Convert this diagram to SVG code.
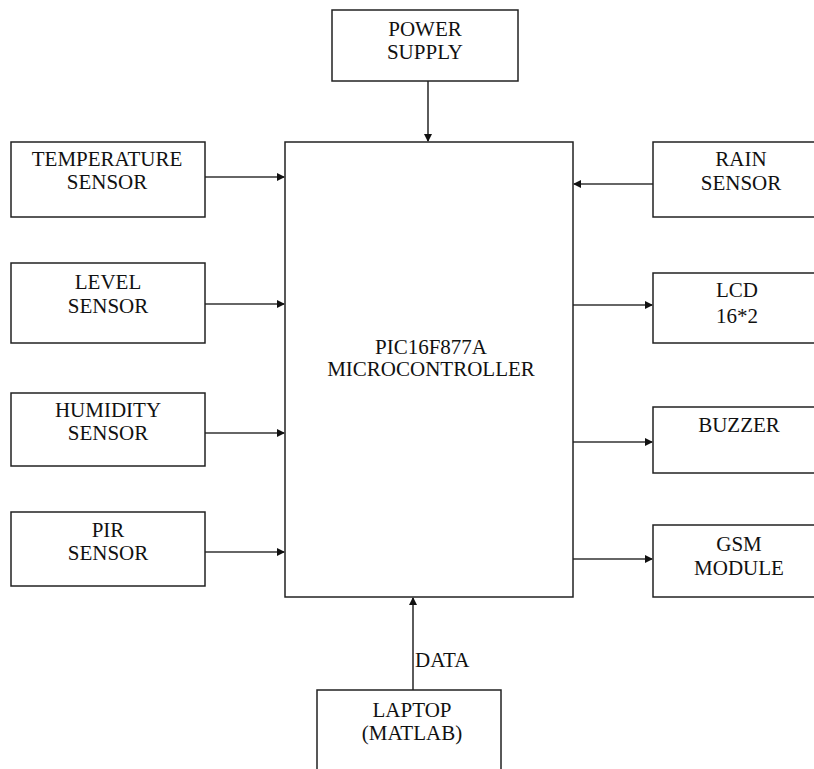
<svg xmlns="http://www.w3.org/2000/svg" width="814" height="769" viewBox="0 0 814 769">
<style>
.box{fill:#fff;stroke:#222;stroke-width:1.5}
.t{font-family:"Liberation Serif","Times New Roman",serif;font-size:21px;fill:#111;text-anchor:middle}
.c{stroke:#333;stroke-width:1.6;fill:none;marker-end:url(#ah)}
</style>
<defs>
<marker id="ah" markerWidth="8" markerHeight="8" refX="7" refY="4" orient="auto" markerUnits="userSpaceOnUse">
<path d="M0,0 L8,4 L0,8 Z" fill="#111"/>
</marker>
</defs>
<rect width="814" height="769" fill="#fff"/>
<g id="connectors">
<line class="c" x1="428" y1="81" x2="428" y2="141"/>
<line class="c" x1="205" y1="177" x2="284" y2="177"/>
<line class="c" x1="205" y1="304" x2="284" y2="304"/>
<line class="c" x1="205" y1="433" x2="284" y2="433"/>
<line class="c" x1="205" y1="552" x2="284" y2="552"/>
<line class="c" x1="653" y1="184" x2="574" y2="184"/>
<line class="c" x1="573" y1="305" x2="652" y2="305"/>
<line class="c" x1="573" y1="442" x2="652" y2="442"/>
<line class="c" x1="573" y1="559" x2="652" y2="559"/>
<line class="c" x1="413" y1="690" x2="413" y2="598"/>
<text class="t" x="415" y="667" style="text-anchor:start">DATA</text>
</g>
<g id="power">
<rect class="box" x="332" y="10" width="186" height="71"/>
<text class="t" x="425" y="36">POWER</text>
<text class="t" x="425" y="59">SUPPLY</text>
</g>
<g id="mcu">
<rect class="box" x="285" y="142" width="288" height="455"/>
<text class="t" x="431" y="354">PIC16F877A</text>
<text class="t" x="431" y="376">MICROCONTROLLER</text>
</g>
<g id="temp">
<rect class="box" x="11" y="142" width="194" height="75"/>
<text class="t" x="107" y="166">TEMPERATURE</text>
<text class="t" x="107" y="189">SENSOR</text>
</g>
<g id="level">
<rect class="box" x="11" y="263" width="194" height="80"/>
<text class="t" x="108" y="289">LEVEL</text>
<text class="t" x="108" y="313">SENSOR</text>
</g>
<g id="humidity">
<rect class="box" x="11" y="393" width="194" height="73"/>
<text class="t" x="108" y="417">HUMIDITY</text>
<text class="t" x="108" y="440">SENSOR</text>
</g>
<g id="pir">
<rect class="box" x="11" y="512" width="194" height="74"/>
<text class="t" x="108" y="537">PIR</text>
<text class="t" x="108" y="560">SENSOR</text>
</g>
<g id="rain">
<rect class="box" x="653" y="142" width="170" height="75"/>
<text class="t" x="741" y="166">RAIN</text>
<text class="t" x="741" y="190">SENSOR</text>
</g>
<g id="lcd">
<rect class="box" x="653" y="273" width="170" height="70"/>
<text class="t" x="737" y="297">LCD</text>
<text class="t" x="737" y="323">16*2</text>
</g>
<g id="buzzer">
<rect class="box" x="653" y="407" width="170" height="66"/>
<text class="t" x="739" y="432">BUZZER</text>
</g>
<g id="gsm">
<rect class="box" x="653" y="525" width="170" height="72"/>
<text class="t" x="739" y="551">GSM</text>
<text class="t" x="739" y="575">MODULE</text>
</g>
<g id="laptop">
<rect class="box" x="317" y="690" width="184" height="90"/>
<text class="t" x="412" y="717">LAPTOP</text>
<text class="t" x="412" y="740">(MATLAB)</text>
</g>
</svg>
